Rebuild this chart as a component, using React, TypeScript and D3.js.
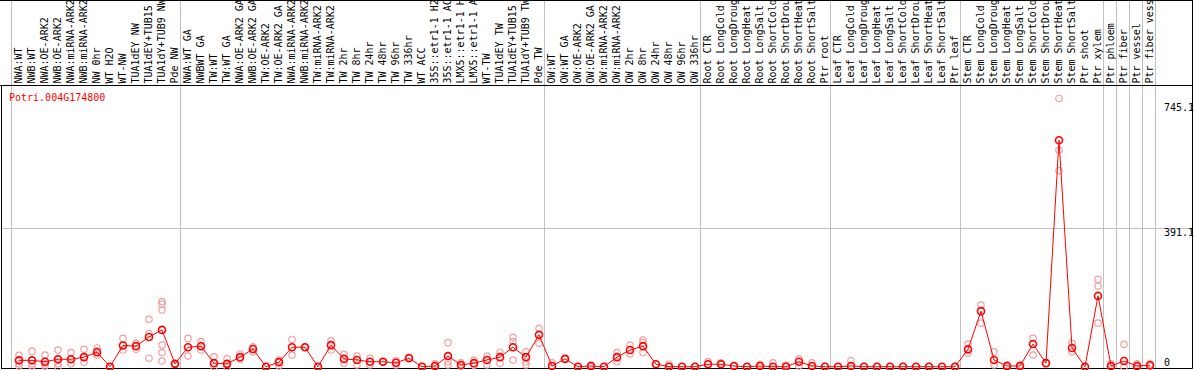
import React from "react";
import * as d3 from "d3";

const title = "Potri.004G174800";

const categories: string[] = [
  "NWA:WT", "NWB:WT", "NWA:OE-ARK2", "NWB:OE-ARK2", "NWA:miRNA-ARK2", "NWB:miRNA-ARK2",
  "NW 0hr", "WT H2O", "WT-NW", "TUA1dEY NW", "TUA1dEY+TUB15", "TUA1dY+TUB9 NW", "Pde NW",
  "NWA:WT GA", "NWBWT GA", "TW:WT", "TW:WT GA", "NWA:OE-ARK2 GA", "NWB:OE-ARK2 GA",
  "TW:OE-ARK2", "TW:OE-ARK2 GA", "NWA:miRNA-ARK2 GA", "NWB:miRNA-ARK2 GA", "TW:miRNA-ARK2",
  "TW:miRNA-ARK2", "TW 2hr", "TW 8hr", "TW 24hr", "TW 48hr", "TW 96hr", "TW 336hr", "WT ACC",
  "35S::etr1-1 H2O", "35S::etr1-1 ACC", "LMX5::etr1-1 H2O", "LMX5::etr1-1 ACC", "WT-TW",
  "TUA1dEY TW", "TUA1dEY+TUB15", "TUA1dY+TUB9 TW", "Pde TW",
  "OW:WT", "OW:WT GA", "OW:OE-ARK2", "OW:OE-ARK2 GA", "OW:miRNA-ARK2", "OW:miRNA-ARK2",
  "OW 2hr", "OW 8hr", "OW 24hr", "OW 48hr", "OW 96hr", "OW 336hr",
  "Root CTR", "Root LongCold", "Root LongDrought", "Root LongHeat", "Root LongSalt",
  "Root ShortCold", "Root ShortDrought", "Root ShortHeat", "Root ShortSalt", "Ptr root",
  "Leaf CTR", "Leaf LongCold", "Leaf LongDrought", "Leaf LongHeat", "Leaf LongSalt",
  "Leaf ShortCold", "Leaf ShortDrought", "Leaf ShortHeat", "Leaf ShortSalt", "Ptr leaf",
  "Stem CTR", "Stem LongCold", "Stem LongDrought", "Stem LongHeat", "Stem LongSalt",
  "Stem ShortCold", "Stem ShortDrought", "Stem ShortHeat", "Stem ShortSalt", "Ptr shoot",
  "Ptr xylem", "Ptr phloem", "Ptr fiber", "Ptr vessel", "Ptr fiber vessel",
];

// number of columns in each group (gray separators between groups)
const groupSizes: number[] = [13, 28, 12, 10, 10, 11, 1, 1, 1, 1];

const means: number[] = [
  18, 18, 14, 21, 21, 27, 41, 0, 60, 58, 84, 104, 8,
  55, 58, 10, 8, 27, 50, 0, 13, 55, 55, 0, 61, 22, 19, 14, 14, 11, 24, 0, 2, 30, 5, 10, 19, 27, 55, 27, 90,
  2, 22, 0, 2, 0, 27, 47, 58, 7, 0, 0, 0,
  7, 7, 2, 0, 2, 0, 0, 14, 2, 0,
  0, 2, 0, 0, 0, 0, 0, 0, 0, 0,
  49, 157, 19, 2, 2, 64, 10, 640, 53, 0, 200,
  2, 16, 2, 4,
];

const replicates: number[][] = [
  [32, 8, 2], [44, 8, 2], [33, 8, 2], [47, 21, 8, 0], [40, 21, 8], [49, 28, 13], [53, 45, 33],
  [0, 0], [80, 47], [66, 49], [134, 94, 24], [184, 177, 160, 61, 40, 16], [8, 8],
  [80, 30], [71, 47], [28, 0], [22, 0], [36, 21], [56, 42], [0], [19, 2], [77, 33], [55, 55],
  [0], [73, 47], [34, 10], [30, 5], [24, 5], [14, 14], [17, 5], [27, 24], [0], [8, 0],
  [68, 14, 5], [11, 2], [19, 4], [30, 5], [41, 10], [83, 71, 19], [42, 14, 5], [108, 66],
  [11, 2], [22, 22], [0], [5, 0], [0], [40, 14], [61, 36], [75, 68, 40], [7], [7, 0], [0], [0],
  [14, 7], [11, 7], [2], [0], [7, 2], [11, 0], [5, 0], [22, 2], [11, 2], [0],
  [0], [17, 2], [0], [0], [0], [0], [0], [0], [0], [0],
  [64, 38], [174, 123], [42, 5], [5, 0], [5, 0], [80, 33], [10], [758, 612, 554], [66, 42], [0],
  [247, 228, 123],
  [8, 0], [63, 0], [8, 0], [8, 2],
];

const yTicks: number[] = [0, 391.1, 745.1];

const W = 1194;
const H = 370;
const FONT = "'DejaVu Sans Mono', monospace";

export default function App() {
  React.useEffect(() => {
    document.body.style.margin = "0";
  }, []);

  const n = categories.length;
  const colStep = 13;
  const x = d3.scaleLinear().domain([0, n]).range([12.5, 12.5 + colStep * n]);
  const cx = (i: number) => x(i) + colStep / 2;
  const y = d3.scaleLinear().domain([0, 745.1]).range([366.7, 103]);

  const headerY = 86;
  const bottomY = 368.5;
  const rightX = 1192.5;

  const boundaries: number[] = [0];
  groupSizes.reduce((acc, s) => {
    boundaries.push(acc + s);
    return acc + s;
  }, 0);

  const line = d3
    .line<number>()
    .x((_, i) => cx(i))
    .y((d) => y(d));

  const repColor = "#f0a0a0";
  const red = "#ff0000";

  return (
    <svg
      width={W}
      height={H}
      style={{ position: "absolute", left: 0, top: 0, background: "#fff" }}
      fontFamily={FONT}
    >
      <rect x={0} y={0} width={W} height={H} fill="#fff" />
      {/* vertical group separators */}
      {boundaries.map((b, i) => {
        const gx = Math.round(x(b) - 1.5) + 0.5;
        return (
          <line key={"v" + i} x1={gx} x2={gx} y1={0} y2={bottomY} stroke="#c0c0c0" strokeWidth={1} />
        );
      })}
      {/* horizontal grid at middle tick */}
      <line
        x1={1}
        x2={rightX}
        y1={Math.round(y(yTicks[1])) + 0.5}
        y2={Math.round(y(yTicks[1])) + 0.5}
        stroke="#c0c0c0"
        strokeWidth={1}
      />
      {/* borders */}
      <line x1={0} x2={rightX} y1={0.5} y2={0.5} stroke="#000" />
      <line x1={0} x2={rightX} y1={headerY - 0.5} y2={headerY - 0.5} stroke="#000" />
      <line x1={1.5} x2={1.5} y1={headerY} y2={bottomY} stroke="#000" />
      <line x1={rightX} x2={rightX} y1={0} y2={bottomY} stroke="#000" />
      <line x1={1} x2={rightX} y1={bottomY} y2={bottomY} stroke="#000" />

      {/* column labels */}
      {categories.map((c, i) => (
        <text
          key={"c" + i}
          transform={`translate(${cx(i) + 3.2},83.5) rotate(-90)`}
          fontSize={10}
          fill="#000"
        >
          {c}
        </text>
      ))}

      {/* title */}
      <text x={9} y={101} fontSize={10} fill={red}>
        {title}
      </text>

      {/* y tick labels */}
      {yTicks.map((t, i) => (
        <text key={"t" + i} x={1164} y={Math.min(y(t) + 7.8, 366)} fontSize={10} fill="#000">
          {t === 0 ? "0" : t.toFixed(1)}
        </text>
      ))}

      {/* replicates */}
      {replicates.map((reps, i) =>
        reps.map((v, j) => (
          <circle
            key={`r${i}-${j}`}
            cx={cx(i)}
            cy={y(v)}
            r={3.2}
            fill="none"
            stroke={repColor}
            strokeWidth={1.2}
          />
        ))
      )}

      {/* mean line */}
      <path d={line(means) || ""} fill="none" stroke={red} strokeWidth={1} />
      {means.map((v, i) => (
        <circle key={"m" + i} cx={cx(i)} cy={y(v)} r={3.5} fill="none" stroke={red} strokeWidth={1.6} />
      ))}
    </svg>
  );
}
